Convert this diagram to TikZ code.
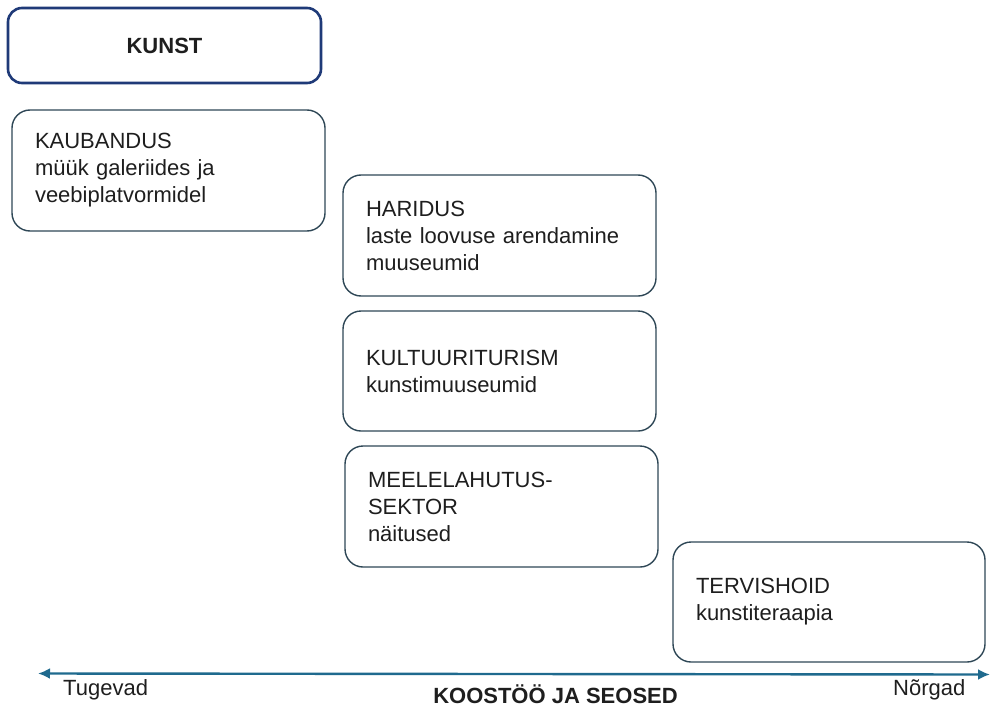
\documentclass[tikz,border=0pt]{standalone}
\usepackage{fontspec}
\setmainfont{Liberation Sans}
\usetikzlibrary{arrows.meta}
\definecolor{boxline}{HTML}{2E4756}
\definecolor{navy}{HTML}{1F3A78}
\definecolor{axisblue}{HTML}{1F6A8E}
\definecolor{txt}{HTML}{1E1E1E}
\begin{document}
\begin{tikzpicture}[x=1pt,y=-1pt,
  card/.style={draw=boxline, line width=1.4pt, rounded corners=18pt,
    minimum height=121pt, text width=267pt, inner xsep=23pt, inner ysep=0pt,
    align=left, font=\fontsize{22}{27}\selectfont, text=txt},
  titlecard/.style={draw=navy, line width=2.6pt, rounded corners=14pt,
    minimum width=313pt, minimum height=75pt, inner sep=0pt,
    font=\fontsize{22}{27}\selectfont\bfseries, text=txt},
  axisline/.style={draw=axisblue, line width=2.4pt,
    {Latex[length=12pt,width=11pt]}-{Latex[length=12pt,width=11pt]}},
  axislabel/.style={font=\fontsize{22}{27}\selectfont, text=txt, inner sep=0pt},
  axistitle/.style={font=\fontsize{22}{27}\selectfont\bfseries, text=txt, inner sep=0pt}]
\useasboundingbox (0,0) rectangle (992,706);

\node[titlecard] (kunst) at (164.5,45.5) {KUNST};

\node[card] (kaub) at (168.5,170.5) {KAUBANDUS\\müük galeriides ja\\veebiplatvormidel};
\node[card] (har) at (499.5,235.5) {HARIDUS\\laste loovuse arendamine\\muuseumid};
\node[card, minimum height=120pt] (kult) at (499.5,371) {KULTUURITURISM\\kunstimuuseumid};
\node[card] (meel) at (501.5,506.5) {MEELELAHUTUS-\\SEKTOR\\näitused};
\node[card, minimum height=120pt, text width=266pt] (terv) at (829,602) {TERVISHOID\\kunstiteraapia};

\coordinate (axL) at (38,673.5);
\coordinate (axR) at (990,674.5);
\draw[axisline] (axL) -- (axR);

\node[axislabel, anchor=base west] (tug) at (63,695) {Tugevad};
\node[axislabel, anchor=base west] (nor) at (893,695) {Nõrgad};
\node[axistitle, anchor=base] (koos) at (555.5,703) {KOOSTÖÖ JA SEOSED};
\end{tikzpicture}
\end{document}
